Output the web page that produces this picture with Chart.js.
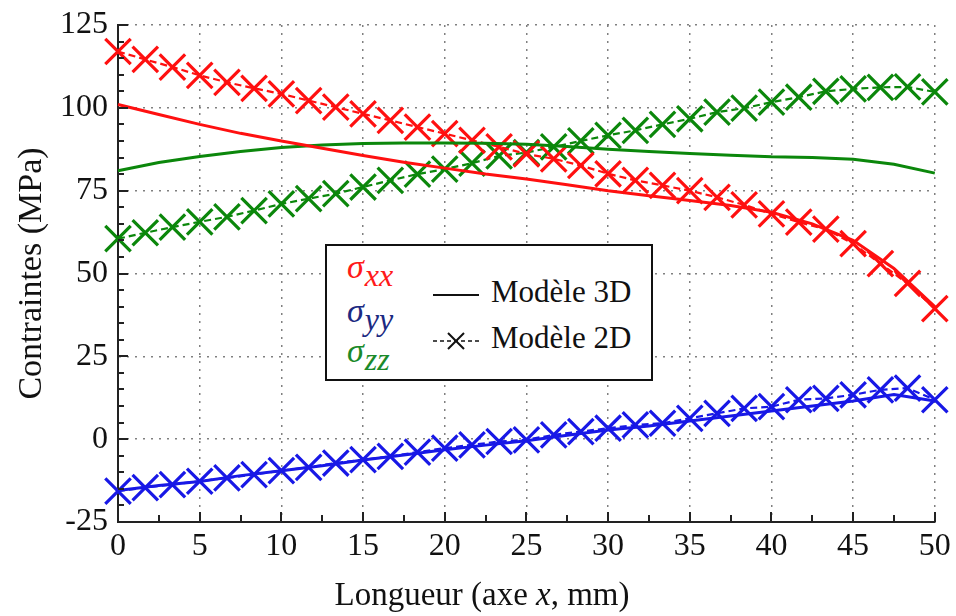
<!DOCTYPE html>
<html>
<head>
<meta charset="utf-8">
<script src="https://cdn.jsdelivr.net/npm/chart.js@4.4.1/dist/chart.umd.min.js"></script>
<style>
  html, body { margin: 0; padding: 0; background: #fff; overflow: hidden; }
  #wrap { position: relative; width: 956px; height: 616px; }
  #chart { display: block; }
  #legend {
    position: absolute; left: 325px; top: 244px; width: 324px; height: 133px;
    border: 2px solid #111; background: #fff;
    font-family: "Liberation Serif", serif; color: #111;
  }
  .sig { position: absolute; left: 20px; font-style: italic; font-size: 34px; line-height: 34px; }
  .sig sub { font-size: 32px; vertical-align: -8px; margin-left: 1px; }
  .item { position: absolute; left: 104px; font-size: 31px; line-height: 31px; white-space: nowrap; }
  .item canvas { vertical-align: middle; margin-right: 10px; }
</style>
</head>
<body>
<div id="wrap">
  <canvas id="chart"></canvas>
  <div id="legend">
    <div class="sig" style="top:4px;color:#ff1a1a">σ<sub>xx</sub></div>
    <div class="sig" style="top:48px;color:#1c2a82">σ<sub>yy</sub></div>
    <div class="sig" style="top:88px;color:#1a8a2a">σ<sub>zz</sub></div>
    <div class="item" style="top:30px"><canvas id="sw3d" width="50" height="24"></canvas>Modèle 3D</div>
    <div class="item" style="top:76px"><canvas id="sw2d" width="50" height="24"></canvas>Modèle 2D</div>
  </div>
</div>
<script>
// x positions (mm)
const x2D = [0, 1.67, 3.33, 5, 6.67, 8.33, 10, 11.67, 13.33, 15, 16.67, 18.33, 20, 21.67, 23.33, 25,
  26.67, 28.33, 30, 31.67, 33.33, 35, 36.67, 38.33, 40, 41.67, 43.33, 45, 46.67, 48.33, 50];
const x3D = [0, 2.5, 5, 7.5, 10, 12.5, 15, 17.5, 20, 22.5, 25, 27.5, 30, 32.5, 35, 37.5, 40, 42.5, 45, 47.5, 50];

// Modèle 3D (solid lines)
const sxx3D = [101, 98, 95, 92.3, 90, 87.8, 85.6, 83.6, 81.8, 80, 78.5, 76.8, 75, 73.5, 72, 70.5, 68.5, 65, 60, 51.5, 40];
const syy3D = [-15.5, -14, -12.8, -11, -9.5, -8, -6.3, -4.8, -3.2, -1.8, -0.5, 1.2, 2.8, 4, 5.5, 7, 8.5, 10, 11.5, 13.5, 11.5];
const szz3D = [81, 83.5, 85.3, 86.8, 88, 88.8, 89.2, 89.4, 89.4, 89.3, 89, 88.3, 87.5, 86.8, 86.2, 85.7, 85.2, 85, 84.5, 83, 80.3];

// Modèle 2D (dashed lines with crosses)
const sxx2D = [117, 114.6, 112.3, 109.8, 107.7, 105.9, 104.2, 102.2, 100.2, 98.2, 96.2, 94.2, 92.2, 90.2, 88.2, 86.1,
  84.6, 82.6, 80.1, 78.1, 76.6, 75, 73, 70.7, 68, 65.5, 63.4, 59, 53, 47, 39.4];
const syy2D = [-15.7, -14.6, -13.7, -12.7, -11.7, -10.7, -9.5, -8.5, -7.2, -6.2, -5.2, -3.9, -2.7, -1.7, -0.7, -0.2,
  1.3, 2.3, 3.3, 4.3, 4.8, 6.3, 7.8, 9.3, 9.8, 11.9, 12.3, 13.4, 14.9, 15.4, 11.9];
const szz2D = [60.5, 62.3, 64, 65.6, 67.1, 69, 71, 72.6, 74.1, 76.1, 78.1, 80, 81.5, 83.3, 85.5, 86.5,
  88.2, 90, 91.7, 93.2, 95, 96.7, 98.7, 99.9, 101.7, 103.2, 105, 105.7, 106.2, 106.3, 104.8];

const RED = '#ff1010', BLUE = '#1818e6', GREEN = '#0b870b';
const FONT = '"Liberation Serif", "Times New Roman", serif';

const pts = (xs, ys) => xs.map((x, i) => ({ x, y: ys[i] }));

const solid = (data, color) => ({
  data, borderColor: color, borderWidth: 3, pointRadius: 0, tension: 0, clip: false,
});
const crossed = (data, color) => ({
  data, borderColor: color, borderWidth: 2.2, borderDash: [7, 4], tension: 0, clip: false,
  pointStyle: 'crossRot', pointRadius: 18, pointBorderColor: color, pointBorderWidth: 3.2,
});

// inward ticks, major + minor
const innerTicks = {
  id: 'innerTicks',
  afterDraw(chart) {
    const { ctx, chartArea, scales: { x, y } } = chart;
    ctx.save();
    ctx.strokeStyle = '#222';
    ctx.lineWidth = 2;
    ctx.beginPath();
    for (let v = 0; v <= 50; v += 2.5) {
      const px = Math.round(x.getPixelForValue(v));
      ctx.moveTo(px, chartArea.bottom);
      ctx.lineTo(px, chartArea.bottom - (v % 5 === 0 ? 10 : 7));
    }
    for (let v = -25; v <= 125; v += 5) {
      const py = Math.round(y.getPixelForValue(v));
      ctx.moveTo(chartArea.left, py);
      ctx.lineTo(chartArea.left + (v % 25 === 0 ? 10 : 6), py);
    }
    ctx.stroke();
    ctx.restore();
  },
};

// x axis title with italic x
const xTitle = {
  id: 'xTitle',
  afterDraw(chart) {
    const { ctx } = chart;
    const parts = [['Longueur (axe ', 'normal'], ['x', 'italic'], [', mm)', 'normal']];
    ctx.save();
    ctx.fillStyle = '#111';
    ctx.textBaseline = 'alphabetic';
    let total = 0;
    parts.forEach(([t, s]) => { ctx.font = `${s} 33px ${FONT}`; total += ctx.measureText(t).width; });
    let cx = 482 - total / 2;
    parts.forEach(([t, s]) => {
      ctx.font = `${s} 33px ${FONT}`;
      ctx.fillText(t, cx, 605);
      cx += ctx.measureText(t).width;
    });
    ctx.restore();
  },
};

new Chart(document.getElementById('chart'), {
  type: 'line',
  data: {
    datasets: [
      solid(pts(x3D, sxx3D), RED),
      solid(pts(x3D, szz3D), GREEN),
      solid(pts(x3D, syy3D), BLUE),
      crossed(pts(x2D, sxx2D), RED),
      crossed(pts(x2D, szz2D), GREEN),
      crossed(pts(x2D, syy2D), BLUE),
    ],
  },
  plugins: [innerTicks, xTitle],
  options: {
    responsive: true,
    maintainAspectRatio: false,
    animation: false,
    layout: { padding: { top: 25, right: 15, left: 0, bottom: 0 } },
    plugins: { legend: { display: false }, tooltip: { enabled: false } },
    scales: {
      x: {
        type: 'linear', min: 0, max: 50,
        afterFit: (s) => { s.height = 94; s.paddingLeft = 0; s.paddingRight = 0; },
        ticks: { stepSize: 5, color: '#111', padding: 5, maxRotation: 0, font: { family: FONT, size: 32 } },
        grid: { color: '#808080', lineWidth: 1.5, drawTicks: false },
        border: { display: true, color: '#222', width: 2, dash: [2, 6] },
      },
      y: {
        min: -25, max: 125,
        afterFit: (s) => { s.width = 118; s.paddingTop = 0; s.paddingBottom = 0; },
        ticks: { stepSize: 25, color: '#111', padding: 10, font: { family: FONT, size: 32 } },
        grid: { color: '#808080', lineWidth: 1.5, drawTicks: false },
        border: { display: true, color: '#222', width: 2, dash: [2, 6] },
        title: {
          display: true, text: 'Contraintes (MPa)', color: '#111',
          font: { family: FONT, size: 34 }, padding: { top: 12, bottom: 0 },
        },
      },
    },
  },
});

// legend line samples
(() => {
  const a = document.getElementById('sw3d').getContext('2d');
  a.strokeStyle = '#111'; a.lineWidth = 2;
  a.beginPath(); a.moveTo(2, 12); a.lineTo(48, 12); a.stroke();
  const b = document.getElementById('sw2d').getContext('2d');
  b.strokeStyle = '#111'; b.lineWidth = 1.5; b.setLineDash([4, 3]);
  b.beginPath(); b.moveTo(2, 12); b.lineTo(48, 12); b.stroke();
  b.setLineDash([]); b.lineWidth = 2;
  b.beginPath(); b.moveTo(17, 4); b.lineTo(33, 20); b.moveTo(33, 4); b.lineTo(17, 20); b.stroke();
})();
</script>
</body>
</html>
